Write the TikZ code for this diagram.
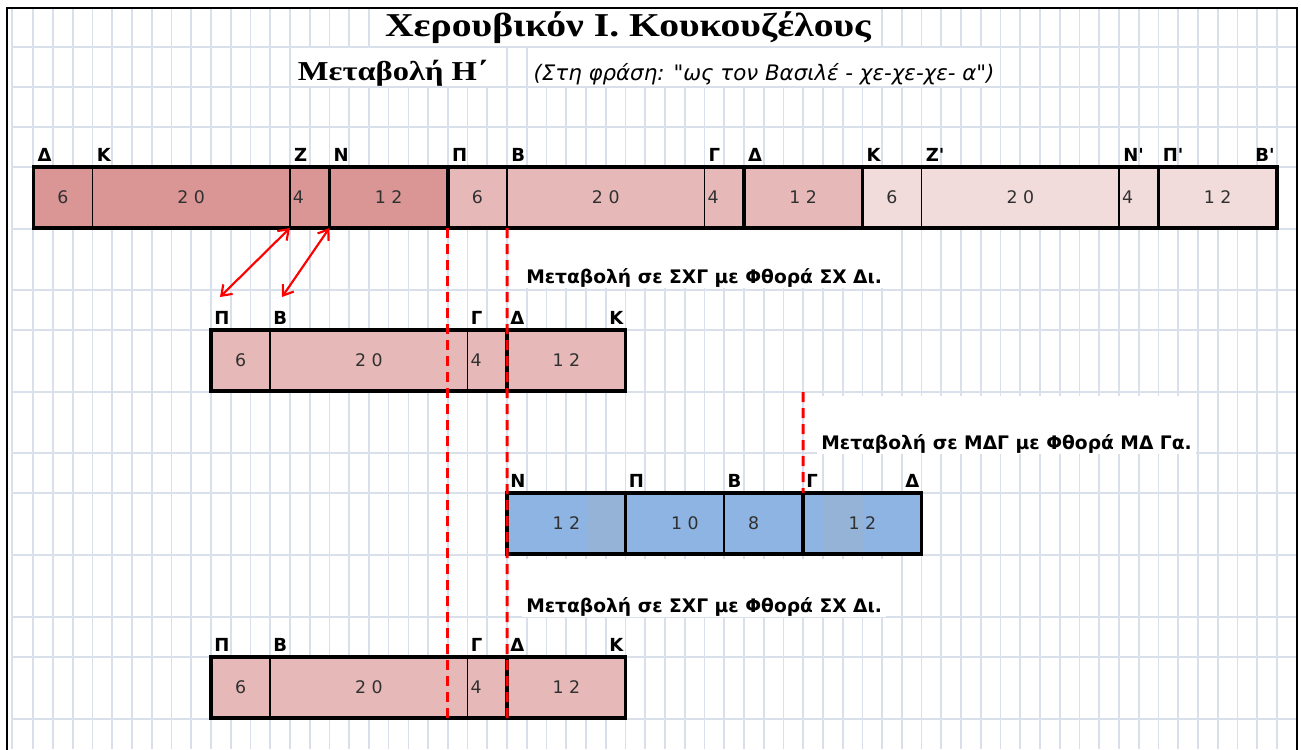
\documentclass[tikz,border=0pt]{standalone}
\usepackage{fontspec}
\setmainfont{Liberation Serif}
\newfontfamily\vsans{DejaVu Sans}
\newfontfamily\headfont{Liberation Serif}[FakeStretch=1.19]
\usetikzlibrary{arrows.meta, positioning}
\definecolor{redA}{HTML}{D99694}
\definecolor{redB}{HTML}{E6B9B8}
\definecolor{redC}{HTML}{F2DCDB}
\definecolor{blueA}{HTML}{8DB4E2}
\definecolor{blueB}{HTML}{95B3D7}
\definecolor{gridc}{HTML}{D9DFEB}
\definecolor{numc}{HTML}{303030}
\newcommand\numfont{\vsans\fontsize{13}{15}\selectfont}
\newcommand\labfont{\vsans\bfseries\fontsize{13.5}{15}\selectfont}
\newcommand\notefont{\vsans\bfseries\fontsize{14}{16}\selectfont}
\tikzset{seg/.style={rectangle,draw,line width=1.2pt,outer sep=0pt,inner sep=0pt,minimum width=#1*14.805pt,minimum height=45.75pt,font=\numfont,text=numc},four/.style={seg=2,text width=25pt,align=left},lab/.style={inner sep=0pt,anchor=base west,font=\labfont},labend/.style={lab,anchor=base east},note/.style={inner xsep=3pt,inner ysep=0pt,anchor=base west,fill=white,font=\notefont,text height=40pt,text depth=3.5pt},heavy/.style={line width=2.6pt},cut/.style={draw=red,line width=2.2pt,dash pattern=on 7.5pt off 4.5pt},twoway/.style={draw=red,line width=1.6pt,{Straight Barb[length=7pt,width=10pt]}-{Straight Barb[length=7pt,width=10pt]}},gridline/.style={draw=gridc,line width=1.3pt}}

\begin{document}
\begin{tikzpicture}[x=0.75pt,y=-0.75pt]
\useasboundingbox (0,0) rectangle (1301,749);
\clip (0,0) rectangle (1301,749);
% sheet grid
\foreach \k in {0,...,63}
  \draw[gridline] ({33.3+19.74*\k},8) -- ({33.3+19.74*\k},749);
\draw[gridline] (12,8) -- (12,749);
\foreach \r in {47,87,127,167,229,290,330,392,453,493,555,617,657,719}
  \draw[gridline] (12,\r) -- (1297,\r);
\draw[line width=1.5pt] (7,760) -- (7,8) -- (1297,8) -- (1297,760);

% headings
\node[anchor=base,fill=white,inner xsep=6pt,inner ysep=0pt,text height=21pt,text depth=6.5pt,font=\headfont\bfseries\fontsize{25}{30}\selectfont] (title) at (628,37) {Χερουβικόν Ι. Κουκουζέλους};
\node[anchor=base west,fill=white,inner xsep=5pt,inner ysep=0pt,text height=24pt,text depth=4.5pt,font=\headfont\bfseries\fontsize{20.5}{24}\selectfont] (meta) at (291,80) {Μεταβολή Η΄};
\node[anchor=base west,fill=white,inner xsep=4pt,inner ysep=0pt,text height=24pt,text depth=4.5pt,font=\vsans\itshape\fontsize{16}{18}\selectfont] (phrase) at (528,80) {(Στη φράση: "ως τον Βασιλέ - χε-χε-χε- α")};

% whole phrase
\node[seg=3,fill=redA,anchor=north west] (t1) at (33.3,167) {6};
\node[seg=10,fill=redA,right=0pt of t1] (t2) {2 0};
\node[four,fill=redA,right=0pt of t2] (t3) {4};
\node[seg=6,fill=redA,right=0pt of t3] (t4) {1 2};
\node[seg=3,fill=redB,right=0pt of t4] (t5) {6};
\node[seg=10,fill=redB,right=0pt of t5] (t6) {2 0};
\node[four,fill=redB,right=0pt of t6] (t7) {4};
\node[seg=6,fill=redB,right=0pt of t7] (t8) {1 2};
\node[seg=3,fill=redC,right=0pt of t8] (t9) {6};
\node[seg=10,fill=redC,right=0pt of t9] (t10) {2 0};
\node[four,fill=redC,right=0pt of t10] (t11) {4};
\node[seg=6,fill=redC,right=0pt of t11] (t12) {1 2};
\draw[heavy] (t1.north west) rectangle (t12.south east);
\foreach \n in {t4,t5,t8,t9,t12}
  \draw[heavy] (\n.north west) -- (\n.south west);
\foreach \n/\s in {t1/Δ,t2/Κ,t3/Ζ,t4/Ν,t5/Π,t6/Β,t7/Γ,t8/Δ,t9/Κ,t10/Ζ',t11/Ν',t12/Π'}
  \node[lab] (l\n) at ([shift={(4,-6)}]\n.north west) {\s};
\node[labend] (lend) at ([shift={(-2,-6)}]t12.north east) {Β'};

% first change
\node[seg=3,fill=redB,anchor=north west] (q1) at (211,330) {6};
\node[seg=10,fill=redB,right=0pt of q1] (q2) {2 0};
\node[four,fill=redB,right=0pt of q2] (q3) {4};
\node[seg=6,fill=redB,right=0pt of q3] (q4) {1 2};
\draw[heavy] (q1.north west) rectangle (q4.south east);
\draw[heavy] (q4.north west) -- (q4.south west);
\foreach \n/\s in {q1/Π,q2/Β,q3/Γ,q4/Δ}
  \node[lab] (l\n) at ([shift={(3,-6)}]\n.north west) {\s};
\node[labend] (qend) at ([shift={(-2,-6)}]q4.north east) {Κ};
\node[note] (n1) at (522,283) {Μεταβολή σε ΣΧΓ με Φθορά ΣΧ Δι.};

% second change
\node[seg=6,fill=blueA,anchor=north west,path picture={\fill[blueB] ([xshift=-29pt]path picture bounding box.north east) rectangle (path picture bounding box.south east);}] (b1) at (507.1,493) {1 2};
\node[seg=5,fill=blueA,right=0pt of b1] (b2) {\hspace*{15pt}1 0};
\node[seg=4,fill=blueA,right=0pt of b2] (b3) {8\hspace*{15pt}};
\node[seg=6,fill=blueA,right=0pt of b3,path picture={\fill[blueB] ([xshift=15pt]path picture bounding box.north west) rectangle ([xshift=45pt]path picture bounding box.south west);}] (b4) {1 2};
\draw[heavy] (b1.north west) rectangle (b4.south east);
\foreach \n in {b2,b4}
  \draw[heavy] (\n.north west) -- (\n.south west);
\foreach \n/\s in {b1/Ν,b2/Π,b3/Β,b4/Γ}
  \node[lab] (l\n) at ([shift={(3,-6)}]\n.north west) {\s};
\node[labend] (bend) at ([shift={(-2,-6)}]b4.north east) {Δ};
\node[note] (n2) at (817,449) {Μεταβολή σε ΜΔΓ με Φθορά ΜΔ Γα.};

% third change
\node[seg=3,fill=redB,anchor=north west] (r1) at (211,657) {6};
\node[seg=10,fill=redB,right=0pt of r1] (r2) {2 0};
\node[four,fill=redB,right=0pt of r2] (r3) {4};
\node[seg=6,fill=redB,right=0pt of r3] (r4) {1 2};
\draw[heavy] (r1.north west) rectangle (r4.south east);
\draw[heavy] (r4.north west) -- (r4.south west);
\foreach \n/\s in {r1/Π,r2/Β,r3/Γ,r4/Δ}
  \node[lab] (l\n) at ([shift={(3,-6)}]\n.north west) {\s};
\node[labend] (rend) at ([shift={(-2,-6)}]r4.north east) {Κ};
\node[note] (n3) at (522,612) {Μεταβολή σε ΣΧΓ με Φθορά ΣΧ Δι.};

% cut lines and swaps
\coordinate (cuttop) at (803.2,392);
\draw[cut] (t4.south east) -- (t4.south east |- r4.south);
\draw[cut] (t5.south east) -- (r4.south west);
\draw[cut] (cuttop) -- (b4.north west);
\coordinate (swapA) at (220,297);
\coordinate (swapB) at (282,297);
\draw[twoway] (t3.south west) -- (swapA);
\draw[twoway] (t4.south west) -- (swapB);
\end{tikzpicture}
\end{document}
